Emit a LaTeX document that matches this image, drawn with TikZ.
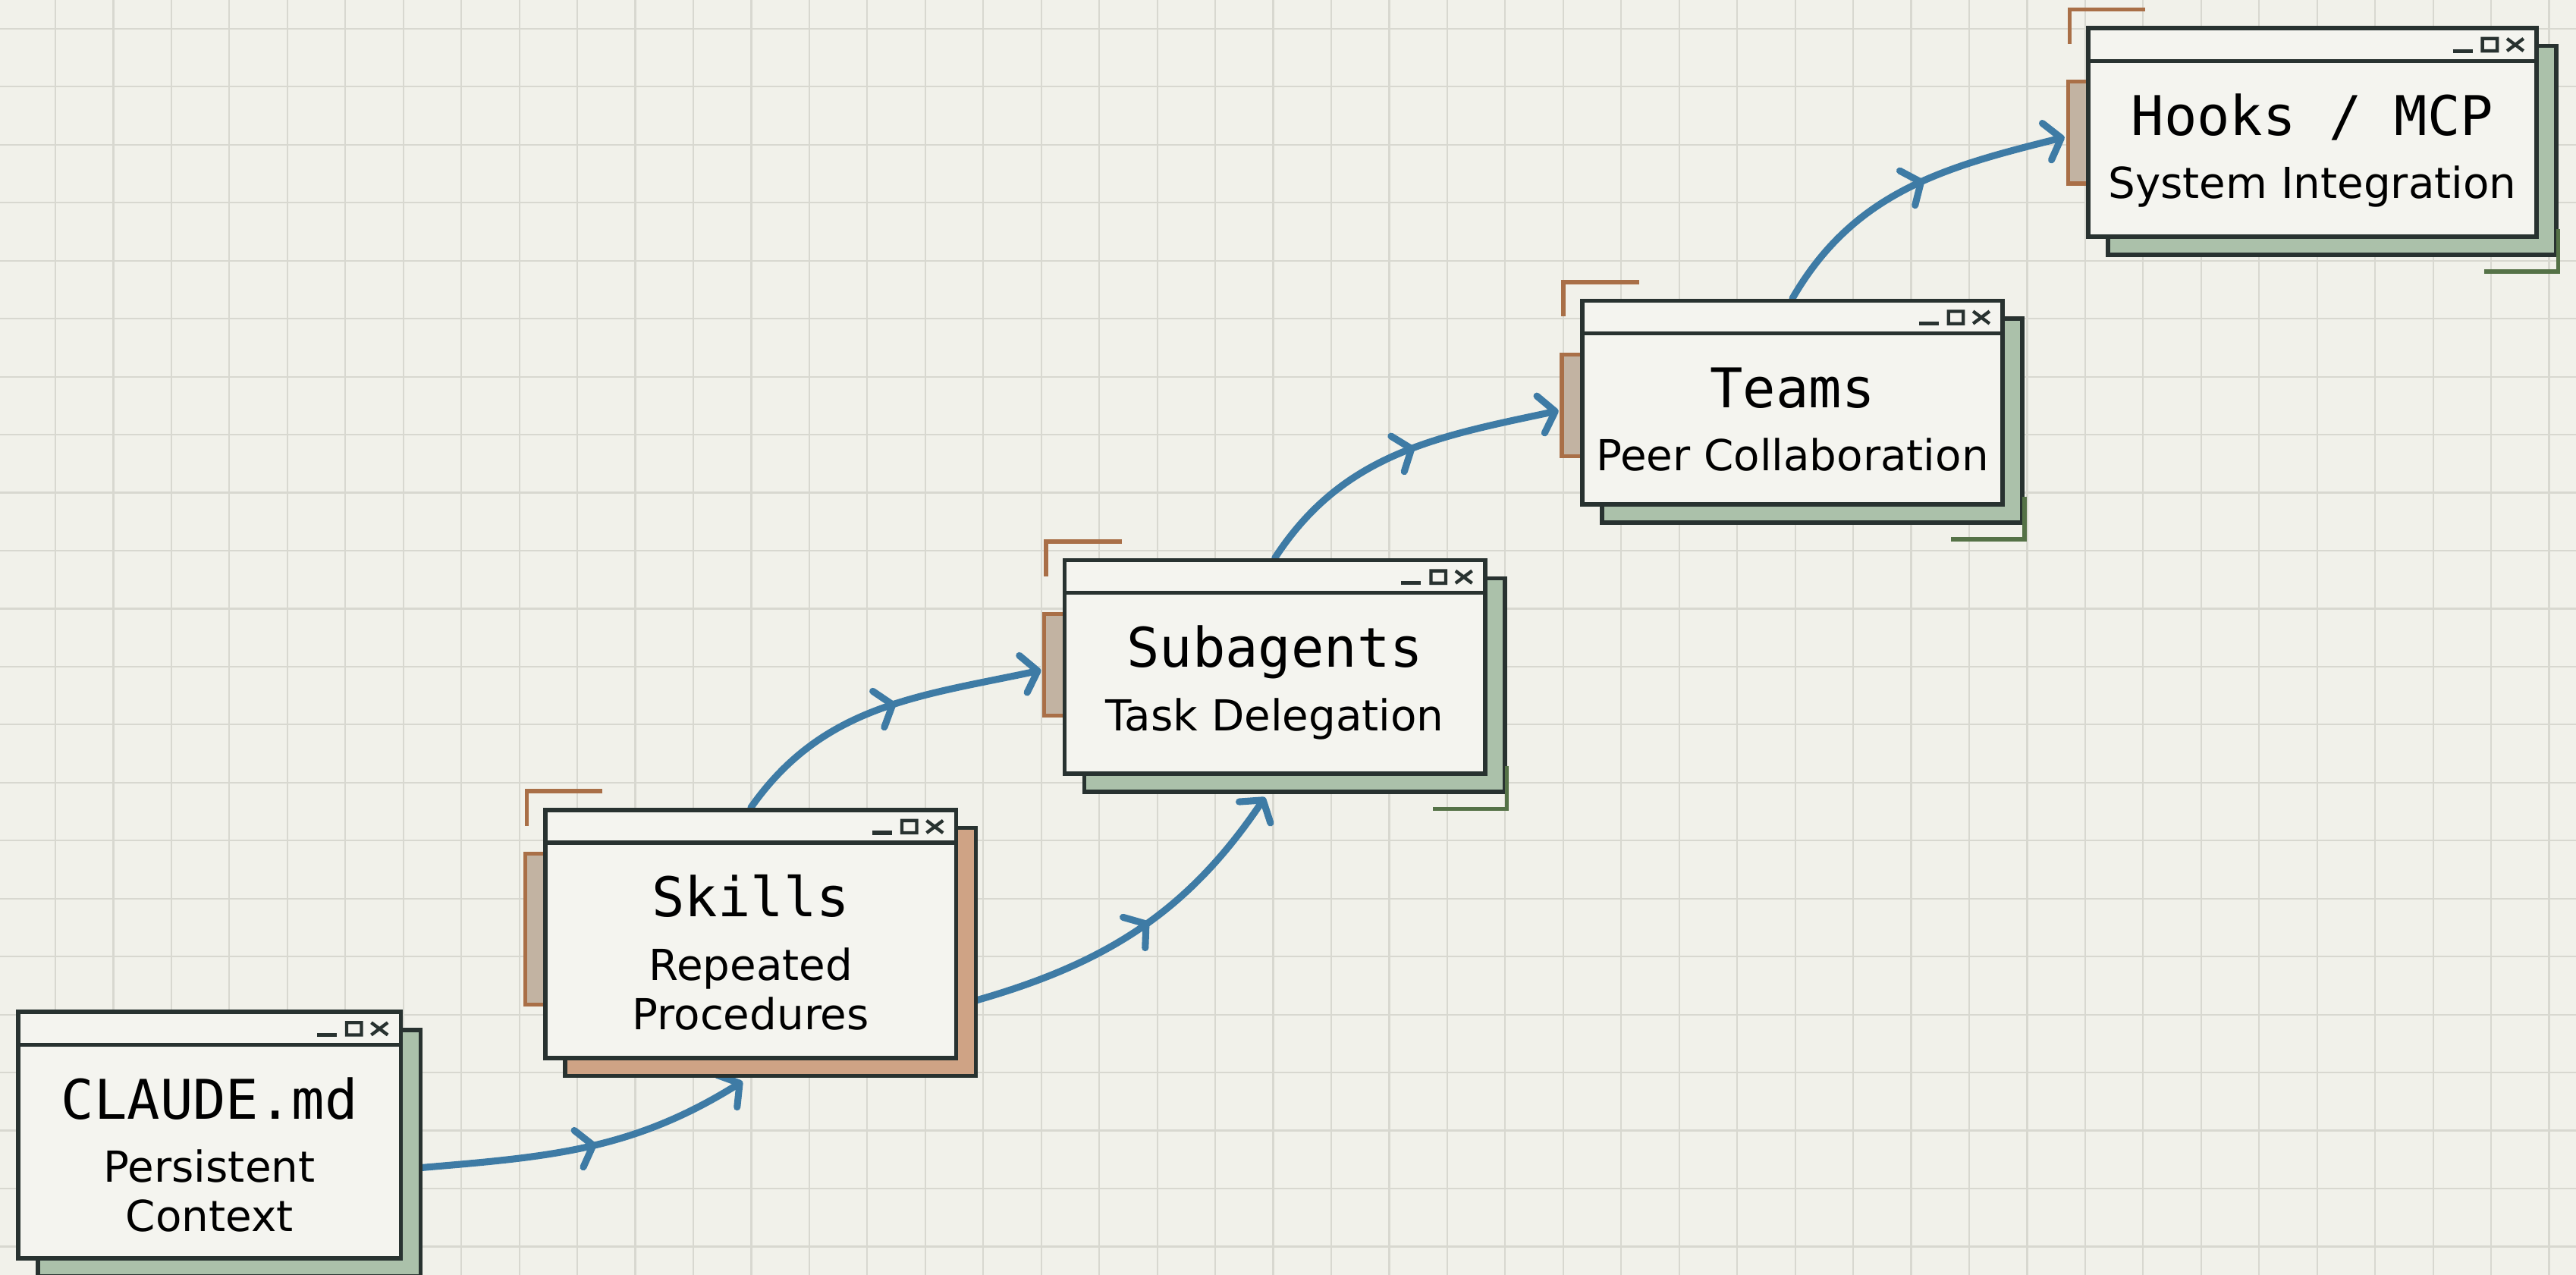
\documentclass[tikz,border=0pt]{standalone}
\usepackage{fontspec}
\newfontfamily\winmono{DejaVu Sans Mono}
\newfontfamily\winsans{DejaVu Sans}
\usetikzlibrary{arrows.meta,shadows,decorations.markings,positioning}

\definecolor{paper}{HTML}{F1F1EA}
\definecolor{gridc}{HTML}{D8D8D0}
\definecolor{winc}{HTML}{F4F4EF}
\definecolor{edge}{HTML}{283230}
\definecolor{sage}{HTML}{ABC1AA}
\definecolor{clay}{HTML}{CFA385}
\definecolor{rust}{HTML}{A96F47}
\definecolor{moss}{HTML}{557247}
\definecolor{flowc}{HTML}{3E7BA5}
\definecolor{stripc}{HTML}{C2B3A2}

\pgfdeclarelayer{sheet}
\pgfdeclarelayer{links}
\pgfsetlayers{sheet,links,main}

\begin{document}
\begin{tikzpicture}[x=1pt,y=1pt]
    \tikzstyle{winframe}=[rectangle, draw=edge, line width=2.6pt, fill=winc,
      path picture={
        \draw[edge, line width=2.4pt] ([yshift=-20pt]path picture bounding box.north west) -- ([yshift=-20pt]path picture bounding box.north east);
        \draw[edge, line width=2.4pt] ([shift={(-51pt,-14pt)}]path picture bounding box.north east) -- ++(12pt,0);
        \draw[edge, line width=2pt] ([shift={(-33pt,-6.5pt)}]path picture bounding box.north east) rectangle ++(9pt,-7.5pt)
          ([shift={(-18pt,-6.5pt)}]path picture bounding box.north east) -- ++(10pt,-7.5pt)
          ([shift={(-18pt,-14pt)}]path picture bounding box.north east) -- ++(10pt,7.5pt);
      }]
    \tikzstyle{window}=[winframe, copy shadow={shadow xshift=12pt, shadow yshift=-11pt, fill=sage, draw=edge, line width=2.6pt}]
    \tikzstyle{hotwindow}=[winframe, copy shadow={shadow xshift=12pt, shadow yshift=-11pt, fill=clay, draw=edge, line width=2.6pt}]
    \tikzstyle{ttl}=[anchor=base, inner sep=0pt, font=\winmono\fontsize{33.3}{40}\selectfont]
    \tikzstyle{subtxt}=[anchor=base, inner sep=0pt, font=\winsans\fontsize{26}{30}\selectfont]
    \tikzstyle{rusttab}=[rust, line width=2.4pt, fill=stripc]
    \tikzstyle{rustcorner}=[rust, line width=2.6pt]
    \tikzstyle{mossfoot}=[moss, line width=2.4pt]
    \tikzstyle{flow}=[flowc, line width=4.2pt, line cap=round, -{Straight Barb[length=9pt,width=23pt,round]},
      postaction={decorate}, decoration={markings, mark=at position 0.55 with {\arrow{Straight Barb[length=9pt,width=23pt,round]}}}]

    \useasboundingbox (0,0) rectangle (1568,-776);

    % paper and grid
    \begin{pgfonlayer}{sheet}
      \fill[paper] (0,0) rectangle (1568,-776);
      \draw[gridc, line width=1pt, step=35.3pt, xshift=33.7pt, yshift=-17.5pt] (-40,-800) grid (1560,20);
    \end{pgfonlayer}

    % windows
    \node[window, minimum width=233pt, minimum height=150pt] (claude) at (127.5,-691) {};
    \node[hotwindow, minimum width=250pt, minimum height=151pt] (skills) at (457,-568.5) {};
    \node[window, minimum width=256pt, minimum height=130pt] (subagents) at (776,-406) {};
    \node[window, minimum width=256pt, minimum height=124pt] (teams) at (1091,-245) {};
    \node[window, minimum width=273pt, minimum height=127pt] (hooks) at (1407.5,-80.5) {};

    \node[ttl] (claude-t) at ([yshift=-66.5pt]claude.north) {CLAUDE.md};
    \node[subtxt] (claude-s1) at ([yshift=-105pt]claude.north) {Persistent};
    \node[subtxt] (claude-s2) at ([yshift=-135pt]claude.north) {Context};
    \node[ttl] (skills-t) at ([yshift=-66.5pt]skills.north) {Skills};
    \node[subtxt] (skills-s1) at ([yshift=-105pt]skills.north) {Repeated};
    \node[subtxt] (skills-s2) at ([yshift=-135pt]skills.north) {Procedures};
    \node[ttl] (subagents-t) at ([yshift=-66.5pt]subagents.north) {Subagents};
    \node[subtxt] (subagents-s) at ([yshift=-105pt]subagents.north) {Task Delegation};
    \node[ttl] (teams-t) at ([yshift=-66.5pt]teams.north) {Teams};
    \node[subtxt] (teams-s) at ([yshift=-105pt]teams.north) {Peer Collaboration};
    \node[ttl] (hooks-t) at ([yshift=-66.5pt]hooks.north) {Hooks / MCP};
    \node[subtxt] (hooks-s) at ([yshift=-105pt]hooks.north) {System Integration};

    % corner marks
    \draw[rustcorner] ([shift={(36pt,10pt)}]skills.north west) -- ++(-46pt,0) -- ++(0,-21pt);
    \draw[rustcorner] ([shift={(36pt,10pt)}]subagents.north west) -- ++(-46pt,0) -- ++(0,-21pt);
    \draw[rustcorner] ([shift={(36pt,10pt)}]teams.north west) -- ++(-46pt,0) -- ++(0,-21pt);
    \draw[rustcorner] ([shift={(36pt,10pt)}]hooks.north west) -- ++(-46pt,0) -- ++(0,-21pt);
    \draw[mossfoot] ([shift={(12pt,6pt)}]subagents.south east) -- ++(0,-26pt) -- ++(-45pt,0);
    \draw[mossfoot] ([shift={(12pt,6pt)}]teams.south east) -- ++(0,-26pt) -- ++(-45pt,0);
    \draw[mossfoot] ([shift={(12pt,6pt)}]hooks.south east) -- ++(0,-26pt) -- ++(-45pt,0);

    % side tabs and arrows
    \begin{pgfonlayer}{links}
      \filldraw[rusttab] ([yshift=-28pt]skills.north west) -- ++(-11pt,0) -- ++(0,-92pt) -- ++(11pt,0);
      \filldraw[rusttab] ([yshift=-34pt]subagents.north west) -- ++(-11pt,0) -- ++(0,-62pt) -- ++(11pt,0);
      \filldraw[rusttab] ([yshift=-34pt]teams.north west) -- ++(-11pt,0) -- ++(0,-62pt) -- ++(11pt,0);
      \filldraw[rusttab] ([yshift=-34pt]hooks.north west) -- ++(-11pt,0) -- ++(0,-62pt) -- ++(11pt,0);

      \draw[flow] (claude.-10) to[out=5,in=212] ([xshift=-5pt,yshift=-13pt]skills.south);
      \draw[flow] (skills.north) to[out=55,in=192] ([xshift=-13pt,yshift=-2pt]subagents.west);
      \draw[flow] (skills.-19) to[out=15,in=236] ([xshift=-6pt,yshift=-13pt]subagents.south);
      \draw[flow] (subagents.north) to[out=57,in=192] ([xshift=-13pt,yshift=-5pt]teams.west);
      \draw[flow] (teams.north) to[out=60,in=194] ([xshift=-13pt,yshift=-3pt]hooks.west);
    \end{pgfonlayer}
\end{tikzpicture}
\end{document}
